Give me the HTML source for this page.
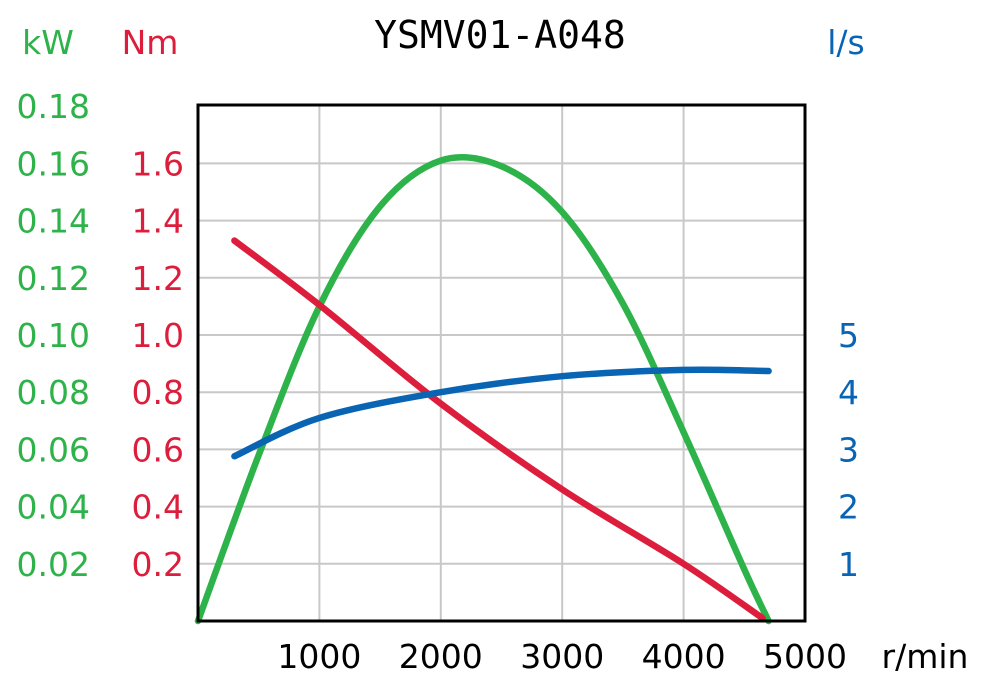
<!DOCTYPE html>
<html><head><meta charset="utf-8"><style>
body{margin:0;background:#fff}
svg text{font-family:"DejaVu Sans","Liberation Sans",sans-serif}
</style></head><body>
<svg id="c" width="989" height="685" xmlns="http://www.w3.org/2000/svg"></svg>
<script>
const xTicks=[1000,2000,3000,4000,5000];
const kwTicks=[0.02,0.04,0.06,0.08,0.10,0.12,0.14,0.16,0.18];
const nmTicks=[0.2,0.4,0.6,0.8,1.0,1.2,1.4,1.6];
const lsTicks=[1,2,3,4,5];
const powerRpm=[0,500,1000,1500,2000,2500,3000,3500,4000,4500,4700];
const powerKw=[0,0.058,0.110,0.145,0.161,0.159,0.143,0.111,0.066,0.018,0];
const torqueRpm=[300,1000,2000,3000,4000,4650];
const torqueNm=[1.33,1.105,0.76,0.46,0.2,0.01];
const flowRpm=[300,1000,2000,3000,4000,4700];
const flowLs=[2.88,3.55,4.0,4.28,4.39,4.37];
const svg=document.getElementById('c');const NS='http://www.w3.org/2000/svg';
const X0=198,X1=805,Y0=621,PX=57.2;
const xs=v=>X0+(X1-X0)*v/5000;
const yKw=v=>Y0-v/0.02*PX, yNm=v=>Y0-v/0.2*PX, yLs=v=>Y0-v*PX;
function el(t,a,txt){const e=document.createElementNS(NS,t);for(const k in a)e.setAttribute(k,a[k]);if(txt!==undefined)e.textContent=txt;svg.appendChild(e);return e;}
for(const t of xTicks){const g=el('line',{x1:xs(t),x2:xs(t),y1:105,y2:Y0,stroke:'#c8c8c8','stroke-width':2});

}
for(const t of nmTicks){const g=el('line',{x1:X0,x2:X1,y1:yNm(t),y2:yNm(t),stroke:'#c8c8c8','stroke-width':2});

}
function path(xa,ya,fx,fy,col,name){const p=xa.map((x,i)=>[xs(x),fy(ya[i])]);let d='M'+p[0];
for(let i=0;i<p.length-1;i++){const a=p[i-1]||p[i],b=p[i],c=p[i+1],e=p[i+2]||c;
d+=' C'+(b[0]+(c[0]-a[0])/6)+','+(b[1]+(c[1]-a[1])/6)+' '+(c[0]-(e[0]-b[0])/6)+','+(c[1]-(e[1]-b[1])/6)+' '+c;}
const e=el('path',{d:d,fill:'none',stroke:col,'stroke-width':6.5,'stroke-linecap':'round'});

}
path(powerRpm,powerKw,xs,yKw,'#2db34a','power-curve');
path(torqueRpm,torqueNm,xs,yNm,'#dc1e3c','torque-curve');
path(flowRpm,flowLs,xs,yLs,'#0a64b4','flow-curve');
const f=el('rect',{x:X0,y:105,width:X1-X0,height:Y0-105,fill:'none',stroke:'#000','stroke-width':3});


function txt(x,y,s,col,anchor,name,size){const e=el('text',{x:x,y:y,fill:col,'font-size':size||33,'text-anchor':anchor},s);

}
for(const t of kwTicks)txt(90,yKw(t)+12,t.toFixed(2),'#2db34a','end','kw-tick');
for(const t of nmTicks)txt(184,yNm(t)+12,t.toFixed(1),'#dc1e3c','end','nm-tick');
for(const t of lsTicks)txt(838,yLs(t)+12,String(t),'#0a64b4','start','ls-tick');
for(const t of xTicks)txt(xs(t),668,String(t),'#000','middle','x-tick');
txt(925,668,'r/min','#000','middle','x-axis-unit');
txt(48,54,'kW','#2db34a','middle','kw-axis-title');
txt(150,54,'Nm','#dc1e3c','middle','nm-axis-title');
txt(846,54,'l/s','#0a64b4','middle','ls-axis-title');
const tt=el('text',{x:500,y:48,'font-size':38,'text-anchor':'middle',fill:'#000',style:'font-family:"DejaVu Sans Mono","Liberation Mono",monospace'},'YSMV01-A048');


</script>
</body></html>
